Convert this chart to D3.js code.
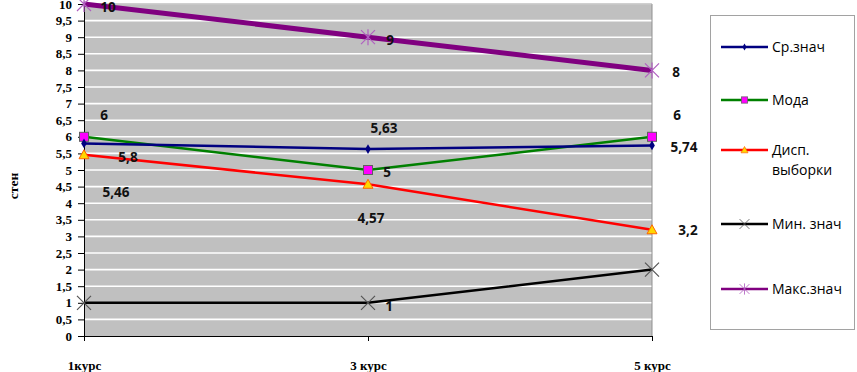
<!DOCTYPE html>
<html><head><meta charset="utf-8">
<script src="https://cdn.jsdelivr.net/npm/d3@7"></script>
<style>body{margin:0;background:#fff}svg{display:block}</style>
</head><body><svg id="c" width="857" height="372"></svg>
<script>
const categories = ["1курс", "3 курс", "5 курс"];
const seriesNames = ["Ср.знач", "Мода", "Дисп.\nвыборки", "Мин. знач", "Макс.знач"];
const meanValues = [5.8, 5.63, 5.74];
const modeValues = [6, 5, 6];
const dispValues = [5.46, 4.57, 3.2];
const minValues = [1, 1, 2];
const maxValues = [10, 9, 8];
const yTicks = d3.range(0, 10.01, 0.5);

// styling (not data)
const styles = [
  {color:"#000080", width:2.5, marker:"diamond", fill:"#000080", stroke:"#000080"},
  {color:"#008000", width:2.5, marker:"square", fill:"#ff00ff", stroke:"#606060"},
  {color:"#ff0000", width:2.5, marker:"triangle", fill:"#ffd700", stroke:"#ff6600"},
  {color:"#000000", width:2.5, marker:"x", fill:"none", stroke:"#555"},
  {color:"#800080", width:5, marker:"star", fill:"none", stroke:"#b060c0"}
];
const labelOffsets = [
  [[44,14],[16,-21],[32,2]],
  [[20,-22],[19,2],[25,-22]],
  [[32,38],[3,34],[36,1]],
  [null,[21,3],null],
  [[24,3],[22,3],[24,2]]
];
const allSeries = [meanValues, modeValues, dispValues, minValues, maxValues];

const svg = d3.select("#c");
const L=84, R=652, T=4, B=336;
const x = d3.scalePoint().domain(categories).range([L,R]);
const y = d3.scaleLinear().domain([0,10]).range([B,T]);

svg.append("rect").attr("x",L).attr("y",T).attr("width",R-L).attr("height",B-T).attr("fill","#c0c0c0");
svg.append("g").selectAll("line").data(yTicks.filter(v=>v>0)).join("line")
  .attr("x1",L).attr("x2",R).attr("y1",d=>y(d)).attr("y2",d=>y(d))
  .attr("stroke","#fff").attr("stroke-width",1.6);
svg.append("line").attr("x1",R).attr("x2",R).attr("y1",T).attr("y2",B).attr("stroke","#909090");
svg.append("line").attr("x1",L).attr("x2",R).attr("y1",T).attr("y2",T).attr("stroke","#a0a0a0");

const yAxis = d3.axisLeft(y).tickValues(yTicks).tickSize(6).tickPadding(6)
  .tickFormat(d=>String(d).replace(".",","));
const gy = svg.append("g").attr("transform",`translate(${L},0)`).call(yAxis);
gy.select(".domain").attr("stroke","#000");
gy.selectAll("text").attr("font-family","Liberation Serif").attr("font-size",13).attr("fill","#000").attr("font-weight","bold");
const xAxis = d3.axisBottom(x).tickSize(5).tickPadding(20);
const gx = svg.append("g").attr("transform",`translate(0,${B})`).call(xAxis);
gx.select(".domain").attr("stroke","#000");
gx.selectAll("text").attr("font-family","Liberation Serif").attr("font-size",13).attr("font-weight","bold").attr("fill","#000");

svg.append("text").attr("transform","translate(18,186) rotate(-90)").attr("text-anchor","middle")
  .attr("font-family","Liberation Serif").attr("font-weight","bold").attr("font-size",13.5).text("стен");

function marker(g, type, st){
  if(type==="diamond") g.append("path").attr("d",d3.symbol(d3.symbolDiamond, 28)()).attr("fill",st.fill);
  else if(type==="square") g.append("rect").attr("x",-4.5).attr("y",-4.5).attr("width",9).attr("height",9).attr("fill",st.fill).attr("stroke",st.stroke).attr("stroke-width",1);
  else if(type==="triangle") g.append("path").attr("d","M0,-5L5,4L-5,4Z").attr("fill",st.fill).attr("stroke",st.stroke).attr("stroke-width",1);
  else if(type==="x") g.append("path").attr("d","M-7,-7L7,7M-7,7L7,-7").attr("stroke",st.stroke).attr("stroke-width",1.2);
  else if(type==="star") g.append("path").attr("d","M-7,-7L7,7M-7,7L7,-7M0,-8L0,8").attr("stroke",st.stroke).attr("stroke-width",1.2);
}

const line = d3.line().x((d,i)=>x(categories[i])).y(d=>y(d));
const order = [4,3,2,1,0];
order.forEach(si=>{
  const vals = allSeries[si], st = styles[si];
  svg.append("path").datum(vals).attr("d",line).attr("fill","none")
    .attr("stroke",st.color).attr("stroke-width",st.width).attr("stroke-linejoin","round");
});
order.forEach(si=>{
  const vals = allSeries[si], st = styles[si];
  vals.forEach((v,i)=>{
    const g = svg.append("g").attr("transform",`translate(${x(categories[i])},${y(v)})`);
    marker(g, st.marker, st);
  });
});
allSeries.forEach((vals,si)=>{
  vals.forEach((v,i)=>{
    const o = labelOffsets[si][i]; if(!o) return;
    svg.append("text").attr("x",x(categories[i])+o[0]).attr("y",y(v)+o[1]).attr("dy","0.35em")
      .attr("text-anchor","middle").attr("font-family","Open Sans").attr("font-weight","bold")
      .attr("font-size",13.5).attr("fill","#111").text(String(v).replace(".",","));
  });
});

// legend
svg.append("rect").attr("x",710.5).attr("y",15.5).attr("width",144).attr("height",314)
  .attr("fill","#fff").attr("stroke","#444").attr("stroke-dasharray","1,1");
const legY = [47, 100, 150, 224, 289];
seriesNames.forEach((n,si)=>{
  const st = styles[si];
  const lineY = legY[si];
  svg.append("line").attr("x1",721).attr("x2",768).attr("y1",lineY).attr("y2",lineY)
    .attr("stroke",st.color).attr("stroke-width",2.5);
  const g = svg.append("g").attr("transform",`translate(744.5,${lineY}) scale(0.7)`);
  marker(g, st.marker, st);
  const t = svg.append("text").attr("x",772).attr("y",lineY).attr("dy","0.35em")
    .attr("font-family","Open Sans").attr("font-size",14).attr("fill","#000");
  n.split("\n").forEach((p,k)=>{
    t.append("tspan").attr("x",772).attr("dy",k===0?"0.35em":"1.45em").text(p);
  });
});
</script></body></html>
